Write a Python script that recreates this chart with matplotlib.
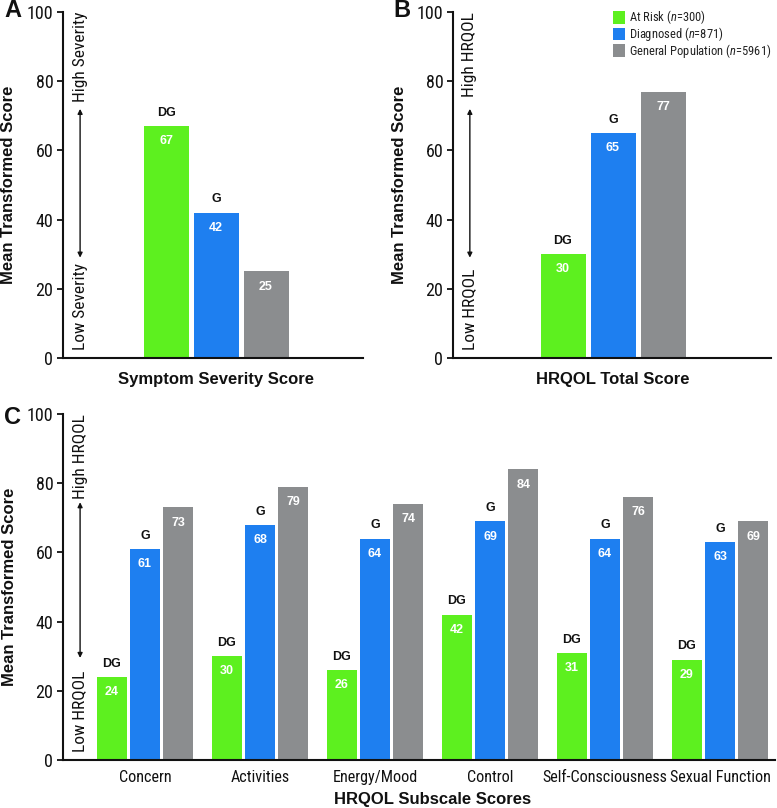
import matplotlib
matplotlib.use("Agg")
import matplotlib.pyplot as plt
from matplotlib import font_manager
from matplotlib.patches import Rectangle
import numpy as np

# ---------------- data ----------------
groups = ['At Risk', 'Diagnosed', 'General Population']
group_n = [300, 871, 5961]
colors = ['#5DF01F', '#1E7FF0', '#8B8D8F']

severity_values = [67, 42, 25]
severity_marks = ['DG', 'G', '']

hrqol_total_values = [30, 65, 77]
hrqol_total_marks = ['DG', 'G', '']

subscales = ['Concern', 'Activities', 'Energy/Mood', 'Control',
             'Self-Consciousness', 'Sexual Function']
sub_at_risk = [24, 30, 26, 42, 31, 29]
sub_diagnosed = [61, 68, 64, 69, 64, 63]
sub_general = [73, 79, 74, 84, 76, 69]
sub_marks_at_risk = ['DG'] * 6
sub_marks_diagnosed = ['G'] * 6

yticks = [0, 20, 40, 60, 80, 100]

# ---------------- fonts ----------------
ttf = font_manager.fontManager.ttflist
names = {f.name for f in ttf}
NARROW_STRETCH = 'normal'
NARROW_SCALE = 1.0
if 'Liberation Sans Narrow' in names:
    NARROW = ['Liberation Sans Narrow', 'DejaVu Sans']
elif 'Roboto Condensed' in names:
    NARROW = ['Roboto Condensed', 'DejaVu Sans']
elif any(f.name == 'DejaVu Sans' and 'condensed' in str(f.stretch) for f in ttf):
    NARROW = ['DejaVu Sans']
    NARROW_STRETCH = 'condensed'
    NARROW_SCALE = 0.95
else:
    NARROW = ['Liberation Sans', 'DejaVu Sans']
    NARROW_SCALE = 0.85
BOLD = ['Liberation Sans', 'DejaVu Sans']

plt.rcParams['font.family'] = BOLD
plt.rcParams['mathtext.fontset'] = 'custom'
plt.rcParams['mathtext.it'] = NARROW[0] + ':italic'
plt.rcParams['mathtext.rm'] = NARROW[0]


def nfs(x):
    return x * NARROW_SCALE


def narrowify(t, size):
    t.set_family(NARROW)
    t.set_stretch(NARROW_STRETCH)
    t.set_fontsize(nfs(size))


W, H = 777, 808
fig = plt.figure(figsize=(W / 100, H / 100), dpi=100)


def style_axes(ax):
    for s in ['top', 'right']:
        ax.spines[s].set_visible(False)
    for s in ['left', 'bottom']:
        ax.spines[s].set_linewidth(1.5)
        ax.spines[s].set_color('#111111')
    ax.set_ylim(0, 100)
    ax.set_yticks(yticks)
    ax.tick_params(axis='y', direction='out', length=4, width=1.3,
                   pad=3, colors='#111111')
    ax.tick_params(axis='x', length=0)
    for lab in ax.get_yticklabels():
        narrowify(lab, 13)


def bar_labels(ax, x, vals, marks):
    for xi, v, m in zip(x, vals, marks):
        ax.annotate(str(v), (xi, v), xytext=(0, -11), textcoords='offset points',
                    ha='center', va='center', color='white', fontsize=9,
                    fontweight='bold', family=BOLD)
        if m:
            ax.annotate(m, (xi, v), xytext=(0, 9.5), textcoords='offset points',
                        ha='center', va='center', color='#111111', fontsize=9,
                        fontweight='bold', family=BOLD)


def range_annot(ax, xfrac, high, low, arrow_top, arrow_bot):
    tr = ax.get_yaxis_transform()
    t1 = ax.text(xfrac, 100, high, rotation=90, ha='center', va='top',
                 transform=tr, color='#111111')
    t2 = ax.text(xfrac, 2.3, low, rotation=90, ha='center', va='bottom',
                 transform=tr, color='#111111')
    narrowify(t1, 12.5)
    narrowify(t2, 12.5)
    ax.annotate('', xy=(xfrac, arrow_top), xytext=(xfrac, arrow_bot),
                xycoords=tr, textcoords=tr,
                arrowprops=dict(arrowstyle='<|-|>', color='#111111', lw=1.0,
                                mutation_scale=7, shrinkA=0, shrinkB=0))


def single_panel(rect, vals, marks, xlim, xlabel, high, low, xfrac, ylabx):
    ax = fig.add_axes(rect)
    x = np.arange(len(vals))
    ax.bar(x, vals, width=0.9, color=colors, edgecolor='none')
    ax.set_xlim(*xlim)
    ax.set_xticks([])
    style_axes(ax)
    bar_labels(ax, x, vals, marks)
    range_annot(ax, xfrac, high, low, 72, 29)
    ax.set_ylabel('Mean Transformed Score', fontsize=12, fontweight='bold',
                  family=BOLD, color='#111111')
    ax.yaxis.set_label_coords(ylabx, 0.5)
    ax.set_xlabel(xlabel, fontsize=12, fontweight='bold', family=BOLD,
                  color='#111111')
    cx = (1 - xlim[0]) / (xlim[1] - xlim[0])
    ax.xaxis.set_label_coords(cx, -0.04)
    return ax


# Panel A
axA = single_panel([63 / W, 450 / H, 300 / W, 346 / H],
                   severity_values, severity_marks, (-2.06, 3.94),
                   'Symptom Severity Score', 'High Severity', 'Low Severity',
                   0.057, -0.155)

# Panel B
axB = single_panel([453 / W, 450 / H, 318 / W, 346 / H],
                   hrqol_total_values, hrqol_total_marks, (-2.2, 4.16),
                   'HRQOL Total Score', 'High HRQOL', 'Low HRQOL',
                   0.053, -0.146)

# Legend (manual, in figure pixels from the top-left)
row_y = [17.5, 34, 50.5]
for (g, n, c, yy) in zip(groups, group_n, colors, row_y):
    fig.patches.append(Rectangle((613 / W, 1 - (yy + 6) / H), 12 / W, 12 / H,
                                 transform=fig.transFigure, facecolor=c,
                                 edgecolor='none'))
    t = fig.text(629 / W, 1 - yy / H, f'{g} ($\\mathit{{n}}$={n})',
                 ha='left', va='center', color='#222222')
    narrowify(t, 9.0)

# Panel C
axC = fig.add_axes([63 / W, 48 / H, 712 / W, 346 / H])
xc = np.arange(len(subscales))
bw = 0.26
pitch = 0.29
for k, (vals, col) in enumerate(zip([sub_at_risk, sub_diagnosed, sub_general], colors)):
    axC.bar(xc + (k - 1) * pitch, vals, width=bw, color=col, edgecolor='none')
style_axes(axC)
axC.set_xlim(-0.713, 5.478)
axC.set_xticks(xc)
axC.set_xticklabels(subscales, color='#111111')
for lab in axC.get_xticklabels():
    narrowify(lab, 11.6)
axC.tick_params(axis='x', length=0, pad=7)
bar_labels(axC, xc - pitch, sub_at_risk, sub_marks_at_risk)
bar_labels(axC, xc, sub_diagnosed, sub_marks_diagnosed)
bar_labels(axC, xc + pitch, sub_general, [''] * 6)
range_annot(axC, 0.024, 'High HRQOL', 'Low HRQOL', 74.5, 29.5)
axC.set_ylabel('Mean Transformed Score', fontsize=12, fontweight='bold',
               family=BOLD, color='#111111')
axC.yaxis.set_label_coords(-0.065, 0.5)
axC.set_xlabel('HRQOL Subscale Scores', fontsize=12, fontweight='bold',
               family=BOLD, color='#111111')
axC.xaxis.set_label_coords((2.5 + 0.713) / (5.478 + 0.713), -0.093)

# Panel letters
for letter, (px, py) in zip('ABC', [(4, 17), (393, 17), (4, 424)]):
    fig.text(px / W, 1 - py / H, letter, fontsize=17, fontweight='bold',
             family=BOLD, ha='left', va='baseline', color='#111111')

fig.savefig('out.png', dpi=100)
